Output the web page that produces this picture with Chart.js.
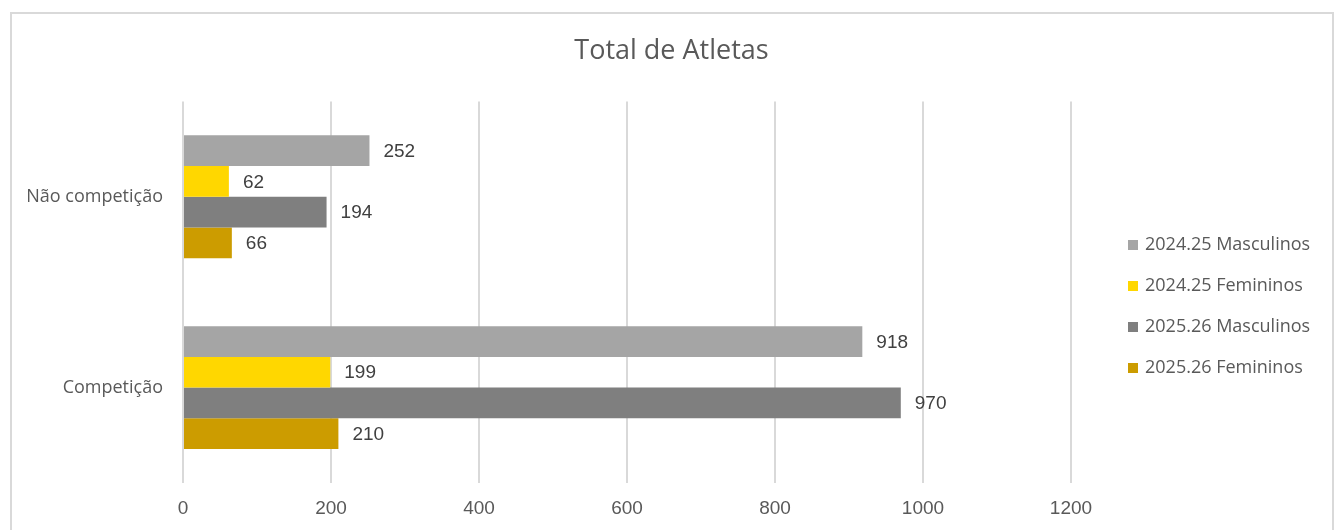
<!DOCTYPE html>
<html>
<head>
<meta charset="utf-8">
<script src="https://cdn.jsdelivr.net/npm/chart.js@4/dist/chart.umd.min.js"></script>
<style>
    html, body { margin: 0; padding: 0; background: #ffffff; overflow: hidden; }
    #wrap { position: relative; width: 1343px; height: 530px; }
    #frame {
        position: absolute; left: 10px; top: 12px; width: 1324px; height: 540px;
        border: 2px solid #d9d9d9; box-sizing: border-box; pointer-events: none;
    }
    canvas { position: absolute; left: 0; top: 0; }
</style>
</head>
<body>
<div id="wrap">
    <div id="frame"></div>
    <canvas id="chart" width="1343" height="530"></canvas>
</div>
<script>
    // chart data
    var categories = ['Não competição', 'Competição'];
    var seriesNames = ['2024.25 Masculinos', '2024.25 Femininos', '2025.26 Masculinos', '2025.26 Femininos'];
    var masc2425 = [252, 918];
    var fem2425 = [62, 199];
    var masc2526 = [194, 970];
    var fem2526 = [66, 210];
    var xMax = 1200;
    var xStep = 200;

    var seriesValues = [masc2425, fem2425, masc2526, fem2526];
    var seriesColors = ['#A5A5A5', '#FFD700', '#7F7F7F', '#CC9C00'];

    var FONT = '"Open Sans", "Noto Sans", sans-serif';
    var NUM_FONT = '"Liberation Sans", Arial, sans-serif';
    var TEXT = '#595959';

    // value labels at the end of each bar
    var barLabels = {
        id: 'barLabels',
        afterDatasetsDraw: function (chart) {
            var ctx = chart.ctx;
            ctx.save();
            ctx.font = '19px ' + NUM_FONT;
            ctx.fillStyle = '#404040';
            ctx.textAlign = 'left';
            ctx.textBaseline = 'middle';
            chart.data.datasets.forEach(function (ds, i) {
                var meta = chart.getDatasetMeta(i);
                meta.data.forEach(function (bar, j) {
                    ctx.fillText(String(ds.data[j]), bar.x + 14, bar.y + 1);
                });
            });
            ctx.restore();
        }
    };

    // legend on the right, Excel style
    var sideLegend = {
        id: 'sideLegend',
        afterDraw: function (chart) {
            var ctx = chart.ctx;
            var x = 1128, y0 = 245, step = 41;
            ctx.save();
            ctx.font = '18px ' + FONT;
            ctx.textAlign = 'left';
            ctx.textBaseline = 'middle';
            chart.data.datasets.forEach(function (ds, i) {
                var y = y0 + i * step;
                ctx.fillStyle = ds.backgroundColor;
                ctx.fillRect(x, y - 5, 10, 10);
                ctx.fillStyle = TEXT;
                ctx.fillText(ds.label, x + 17, y);
            });
            ctx.restore();
        }
    };

    var datasets = seriesNames.map(function (name, i) {
        return {
            label: name,
            data: seriesValues[i],
            backgroundColor: seriesColors[i],
            borderWidth: 0,
            barPercentage: 1.0,
            categoryPercentage: 0.644
        };
    });

    new Chart(document.getElementById('chart'), {
        type: 'bar',
        data: { labels: categories, datasets: datasets },
        options: {
            indexAxis: 'y',
            responsive: false,
            animation: false,
            devicePixelRatio: 1,
            layout: { padding: 0 },
            plugins: {
                legend: { display: false },
                tooltip: { enabled: false },
                title: {
                    display: true,
                    text: 'Total de Atletas',
                    color: TEXT,
                    font: { family: FONT, size: 27, weight: 'normal' },
                    padding: { top: 35, bottom: 34 }
                }
            },
            scales: {
                x: {
                    min: 0,
                    max: xMax,
                    ticks: {
                        stepSize: xStep,
                        color: TEXT,
                        font: { family: NUM_FONT, size: 19 },
                        padding: 14,
                        callback: function (v) { return String(v); }
                    },
                    grid: { color: '#d9d9d9', lineWidth: 2, drawTicks: false },
                    border: { display: false },
                    afterFit: function (scale) { scale.height = 47; }
                },
                y: {
                    ticks: {
                        color: TEXT,
                        font: { family: FONT, size: 18 },
                        padding: 20
                    },
                    grid: { display: false, drawTicks: false },
                    border: { display: false },
                    afterFit: function (scale) { scale.width = 183; }
                },
                // empty axis that keeps room for the legend on the right
                legendSpace: {
                    axis: 'y',
                    type: 'linear',
                    position: 'right',
                    ticks: { display: false },
                    grid: { display: false, drawTicks: false },
                    border: { display: false },
                    afterFit: function (scale) { scale.width = 272; }
                }
            }
        },
        plugins: [barLabels, sideLegend]
    });
</script>
</body>
</html>
